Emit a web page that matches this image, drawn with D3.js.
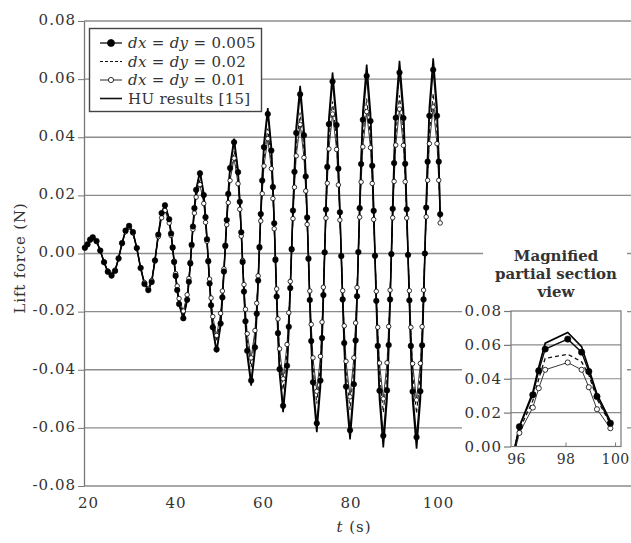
<!DOCTYPE html>
<html>
<head>
<meta charset="utf-8">
<script src="https://cdn.jsdelivr.net/npm/d3@7"></script>
<style>
  body { margin: 0; background: #fff; }
  svg { display: block; }
  text { font-family: "DejaVu Serif", serif; fill: #333; }
</style>
</head>
<body>
<svg id="chart" width="631" height="543"></svg>
<script>
// time samples (s)
const time = [19.3,19.9,20.5,21.1,
  21.96,22.82,23.68,24.54,25.4,
  26.2,27.0,27.8,28.6,29.4,
  30.28,31.16,32.04,32.92,33.8,
  34.56,35.32,36.08,36.84,37.6,
  38.57,39.0,39.36,39.7,40.04,40.4,40.83,41.8,
  42.67,43.07,43.4,43.7,44.0,44.33,44.73,45.6,
  46.47,46.87,47.2,47.5,47.8,48.14,48.53,49.4,
  50.32,50.73,51.08,51.4,51.72,52.07,52.48,53.4,
  54.3,54.7,55.04,55.35,55.66,56.0,56.4,57.3,
  58.17,58.57,58.9,59.2,59.5,59.83,60.23,61.1,
  61.91,62.27,62.57,62.85,63.13,63.43,63.8,64.6,
  65.5,65.9,66.24,66.55,66.86,67.2,67.6,68.5,
  69.37,69.77,70.1,70.4,70.7,71.03,71.43,72.3,
  73.13,73.5,73.81,74.1,74.39,74.7,75.07,75.9,
  76.82,77.23,77.58,77.9,78.22,78.57,78.98,79.9,
  80.77,81.17,81.5,81.8,82.1,82.43,82.83,83.7,
  84.57,84.97,85.3,85.6,85.9,86.23,86.63,87.5,
  88.35,88.73,89.05,89.35,89.65,89.97,90.35,91.2,
  92.1,92.5,92.84,93.15,93.46,93.8,94.2,95.1,
  95.97,96.37,96.7,97.0,97.3,97.63,98.03,98.9,
  99.77,100.17,100.5];

const huResults = [0.0020,0.0032,0.0048,0.0056,
  0.0043,0.0010,-0.0030,-0.0063,-0.0076,
  -0.0060,-0.0017,0.0036,0.0079,0.0095,
  0.0074,0.0019,-0.0050,-0.0105,-0.0126,
  -0.0098,-0.0024,0.0066,0.0140,0.0168,
  0.0119,0.0070,0.0021,-0.0029,-0.0078,-0.0127,-0.0176,-0.0225,
  -0.0161,-0.0098,-0.0034,0.0030,0.0094,0.0158,0.0221,0.0285,
  0.0207,0.0129,0.0051,-0.0028,-0.0106,-0.0184,-0.0262,-0.0340,
  -0.0248,-0.0156,-0.0064,0.0028,0.0119,0.0211,0.0303,0.0395,
  0.0289,0.0183,0.0076,-0.0030,-0.0136,-0.0243,-0.0349,-0.0455,
  -0.0336,-0.0216,-0.0097,0.0023,0.0142,0.0261,0.0381,0.0500,
  0.0369,0.0239,0.0108,-0.0023,-0.0154,-0.0285,-0.0415,-0.0546,
  -0.0406,-0.0265,-0.0125,0.0016,0.0156,0.0296,0.0437,0.0577,
  0.0428,0.0279,0.0130,-0.0019,-0.0168,-0.0317,-0.0466,-0.0615,
  -0.0460,-0.0306,-0.0151,0.0004,0.0159,0.0314,0.0468,0.0623,
  0.0465,0.0307,0.0149,-0.0009,-0.0166,-0.0324,-0.0482,-0.0640,
  -0.0479,-0.0318,-0.0156,0.0005,0.0166,0.0328,0.0489,0.0650,
  0.0485,0.0321,0.0156,-0.0009,-0.0173,-0.0338,-0.0502,-0.0667,
  -0.0501,-0.0335,-0.0168,-0.0002,0.0164,0.0331,0.0497,0.0663,
  0.0496,0.0329,0.0162,-0.0005,-0.0171,-0.0338,-0.0505,-0.0672,
  -0.0504,-0.0336,-0.0168,0.0000,0.0168,0.0336,0.0504,0.0672,
  0.0504,0.0336,0.0130];

const grid005 = [0.0020,0.0032,0.0048,0.0056,
  0.0043,0.0010,-0.0030,-0.0063,-0.0076,
  -0.0060,-0.0017,0.0036,0.0079,0.0095,
  0.0074,0.0019,-0.0050,-0.0105,-0.0126,
  -0.0098,-0.0024,0.0065,0.0139,0.0166,
  0.0118,0.0069,0.0021,-0.0029,-0.0077,-0.0126,-0.0174,-0.0223,
  -0.0159,-0.0097,-0.0034,0.0030,0.0093,0.0156,0.0219,0.0276,
  0.0201,0.0125,0.0049,-0.0027,-0.0103,-0.0178,-0.0254,-0.0330,
  -0.0241,-0.0151,-0.0062,0.0027,0.0115,0.0205,0.0294,0.0383,
  0.0280,0.0178,0.0073,-0.0029,-0.0131,-0.0233,-0.0335,-0.0437,
  -0.0323,-0.0207,-0.0093,0.0022,0.0136,0.0251,0.0366,0.0480,
  0.0354,0.0229,0.0104,-0.0022,-0.0148,-0.0274,-0.0398,-0.0524,
  -0.0386,-0.0252,-0.0119,0.0015,0.0148,0.0281,0.0415,0.0548,
  0.0407,0.0265,0.0124,-0.0018,-0.0160,-0.0301,-0.0443,-0.0584,
  -0.0437,-0.0291,-0.0143,0.0004,0.0151,0.0298,0.0445,0.0592,
  0.0442,0.0292,0.0142,-0.0009,-0.0158,-0.0308,-0.0458,-0.0608,
  -0.0450,-0.0299,-0.0147,0.0005,0.0156,0.0308,0.0460,0.0611,
  0.0456,0.0302,0.0147,-0.0008,-0.0163,-0.0318,-0.0472,-0.0627,
  -0.0471,-0.0315,-0.0158,-0.0002,0.0154,0.0311,0.0467,0.0623,
  0.0466,0.0309,0.0152,-0.0005,-0.0161,-0.0318,-0.0475,-0.0632,
  -0.0474,-0.0316,-0.0158,0.0000,0.0158,0.0316,0.0474,0.0632,
  0.0474,0.0316,0.0135];

const grid002 = [0.0019,0.0031,0.0047,0.0054,
  0.0042,0.0010,-0.0029,-0.0061,-0.0074,
  -0.0058,-0.0016,0.0035,0.0077,0.0092,
  0.0072,0.0018,-0.0049,-0.0102,-0.0122,
  -0.0095,-0.0023,0.0061,0.0130,0.0156,
  0.0111,0.0065,0.0020,-0.0027,-0.0073,-0.0118,-0.0164,-0.0209,
  -0.0150,-0.0091,-0.0032,0.0028,0.0087,0.0147,0.0206,0.0254,
  0.0184,0.0115,0.0045,-0.0025,-0.0094,-0.0164,-0.0233,-0.0303,
  -0.0221,-0.0139,-0.0057,0.0025,0.0106,0.0188,0.0270,0.0352,
  0.0257,0.0163,0.0065,-0.0026,-0.0117,-0.0209,-0.0300,-0.0391,
  -0.0289,-0.0186,-0.0083,0.0020,0.0122,0.0224,0.0328,0.0430,
  0.0317,0.0206,0.0093,-0.0020,-0.0132,-0.0245,-0.0357,-0.0470,
  -0.0341,-0.0223,-0.0105,0.0013,0.0131,0.0249,0.0367,0.0485,
  0.0360,0.0234,0.0109,-0.0016,-0.0141,-0.0266,-0.0391,-0.0517,
  -0.0386,-0.0257,-0.0127,0.0003,0.0134,0.0264,0.0393,0.0523,
  0.0391,0.0258,0.0125,-0.0008,-0.0139,-0.0272,-0.0405,-0.0538,
  -0.0393,-0.0261,-0.0128,0.0004,0.0136,0.0269,0.0401,0.0533,
  0.0398,0.0263,0.0128,-0.0007,-0.0142,-0.0277,-0.0412,-0.0547,
  -0.0411,-0.0275,-0.0138,-0.0002,0.0134,0.0271,0.0408,0.0544,
  0.0407,0.0270,0.0133,-0.0004,-0.0140,-0.0277,-0.0414,-0.0551,
  -0.0413,-0.0276,-0.0138,0.0000,0.0138,0.0276,0.0413,0.0551,
  0.0413,0.0276,0.0120];

const grid001 = [0.0019,0.0030,0.0046,0.0053,
  0.0041,0.0010,-0.0029,-0.0060,-0.0072,
  -0.0057,-0.0016,0.0034,0.0075,0.0090,
  0.0070,0.0018,-0.0048,-0.0100,-0.0120,
  -0.0093,-0.0023,0.0058,0.0123,0.0148,
  0.0105,0.0062,0.0018,-0.0026,-0.0069,-0.0112,-0.0155,-0.0198,
  -0.0142,-0.0086,-0.0030,0.0026,0.0083,0.0139,0.0194,0.0237,
  0.0172,0.0107,0.0042,-0.0023,-0.0088,-0.0153,-0.0217,-0.0282,
  -0.0206,-0.0129,-0.0053,0.0023,0.0099,0.0175,0.0251,0.0328,
  0.0240,0.0152,0.0060,-0.0024,-0.0107,-0.0192,-0.0276,-0.0359,
  -0.0265,-0.0171,-0.0077,0.0018,0.0112,0.0206,0.0301,0.0395,
  0.0292,0.0189,0.0085,-0.0018,-0.0122,-0.0225,-0.0328,-0.0431,
  -0.0313,-0.0204,-0.0096,0.0012,0.0120,0.0228,0.0336,0.0444,
  0.0330,0.0215,0.0100,-0.0015,-0.0129,-0.0244,-0.0359,-0.0474,
  -0.0354,-0.0236,-0.0116,0.0003,0.0122,0.0242,0.0360,0.0480,
  0.0358,0.0236,0.0115,-0.0007,-0.0128,-0.0249,-0.0371,-0.0493,
  -0.0359,-0.0239,-0.0117,0.0004,0.0125,0.0246,0.0367,0.0488,
  0.0364,0.0241,0.0117,-0.0007,-0.0130,-0.0254,-0.0377,-0.0500,
  -0.0376,-0.0251,-0.0126,-0.0002,0.0123,0.0248,0.0373,0.0497,
  0.0372,0.0247,0.0122,-0.0004,-0.0128,-0.0254,-0.0379,-0.0504,
  -0.0378,-0.0252,-0.0126,0.0000,0.0126,0.0252,0.0378,0.0504,
  0.0378,0.0252,0.0105];

// magnified window
const insetTime = [95.9, 96.14, 96.68, 96.92, 97.18, 98.09, 98.65, 98.94, 99.27, 99.81];
const insetHu   = [-0.004, 0.012, 0.032, 0.047, 0.061, 0.0673, 0.059, 0.046, 0.031, 0.015];
const inset005  = [-0.004, 0.0117, 0.0305, 0.0447, 0.0575, 0.0634, 0.0557, 0.0443, 0.0295, 0.0137];
const inset002  = [-0.005, 0.010, 0.027, 0.040, 0.052, 0.0545, 0.050, 0.0423, 0.028, 0.0133];
const inset001  = [-0.006, 0.008, 0.023, 0.0344, 0.0453, 0.0496, 0.0453, 0.035, 0.022, 0.0108];

const xTicks = [20, 40, 60, 80, 100];
const yTicks = [-0.08, -0.06, -0.04, -0.02, 0, 0.02, 0.04, 0.06, 0.08];
const insetXTicks = [96, 98, 100];
const insetYTicks = [0, 0.02, 0.04, 0.06, 0.08];
const legendLabels = ["dx = dy = 0.005", "dx = dy = 0.02", "dx = dy = 0.01", "HU results [15]"];

const svg = d3.select("#chart");
const gridColor = "#8c8c8c";

// scales
const x = d3.scaleLinear().domain([19.1, 100]).range([84, 438]);
const y = d3.scaleLinear().domain([-0.08, 0.08]).range([486, 21]);

const fmt = d => d.toFixed(2);

// horizontal grid across the whole frame
svg.append("g").selectAll("line").data(yTicks).join("line")
  .attr("x1", 84).attr("x2", 631)
  .attr("y1", d => y(d)).attr("y2", d => y(d))
  .attr("stroke", gridColor).attr("stroke-width", 1.3);

// y axis
const yAxis = svg.append("g").attr("transform", "translate(84,0)")
  .call(d3.axisLeft(y).tickValues(yTicks).tickFormat(fmt).tickSize(6).tickSizeOuter(0).tickPadding(2));
yAxis.select(".domain").attr("stroke", "#777").attr("stroke-width", 1.3);
yAxis.selectAll(".tick line").attr("stroke", "#777");
yAxis.selectAll("text").attr("font-size", 15).attr("letter-spacing", 1).attr("dy", "0.22em")
  .style("font-family", "DejaVu Serif").attr("fill", "#333");

// x axis (labels only, bottom line comes from the grid)
const xAxis = svg.append("g").attr("transform", "translate(0,486)")
  .call(d3.axisBottom(x).tickValues(xTicks).tickSize(0).tickPadding(11));
xAxis.select(".domain").remove();
xAxis.selectAll("text").attr("font-size", 15).attr("letter-spacing", 1)
  .style("font-family", "DejaVu Serif").attr("fill", "#333");

// axis titles
svg.append("text").attr("transform", "translate(25,258) rotate(-90)")
  .attr("text-anchor", "middle").attr("font-size", 15).attr("letter-spacing", 0.8)
  .text("Lift force (N)");
const xt = svg.append("text").attr("x", 354).attr("y", 532).attr("text-anchor", "middle")
  .attr("font-size", 15).attr("letter-spacing", 1);
xt.append("tspan").attr("font-style", "italic").text("t");
xt.append("tspan").text(" (s)");

// series
const series = [
  { values: grid001, stroke: "#222", width: 0.9, dash: null, marker: "open" },
  { values: grid002, stroke: "#111", width: 1.1, dash: "4,3", marker: null },
  { values: grid005, stroke: "#111", width: 1.3, dash: null, marker: "filled" },
  { values: huResults, stroke: "#000", width: 1.6, dash: null, marker: null }
];

function drawSeries(g, xs, ys, times, list, r) {
  const line = d3.line().x(d => xs(d.t)).y(d => ys(d.v));
  list.forEach(s => {
    const rows = times.map((t, i) => ({ t: t, v: s.values[i] }));
    g.append("path").datum(rows)
      .attr("d", line).attr("fill", "none")
      .attr("stroke", s.stroke).attr("stroke-width", s.width)
      .attr("stroke-dasharray", s.dash);
  });
  list.filter(s => s.marker).forEach(s => {
    const rows = times.map((t, i) => ({ t: t, v: s.values[i] }));
    g.append("g").selectAll("circle").data(rows).join("circle")
      .attr("cx", d => xs(d.t)).attr("cy", d => ys(d.v))
      .attr("r", s.marker === "filled" ? r : r * 0.8)
      .attr("fill", s.marker === "filled" ? "#000" : "#fff")
      .attr("stroke", "#000").attr("stroke-width", s.marker === "filled" ? 0.5 : 0.8);
  });
}

drawSeries(svg.append("g"), x, y, time, series, 2.8);

// legend
const lg = svg.append("g");
lg.append("rect").attr("x", 89.5).attr("y", 28.5).attr("width", 172).attr("height", 83)
  .attr("fill", "#fff").attr("stroke", "#444").attr("stroke-width", 1.4);
const legendRows = [
  { dash: null, marker: "filled", width: 1.3 },
  { dash: "3,2", marker: null, width: 1.1 },
  { dash: null, marker: "open", width: 0.9 },
  { dash: null, marker: null, width: 1.6 }
];
legendLabels.forEach((lab, i) => {
  const cy = 43 + i * 18.5;
  const row = legendRows[i];
  lg.append("line").attr("x1", 100).attr("x2", 122).attr("y1", cy).attr("y2", cy)
    .attr("stroke", "#111").attr("stroke-width", row.width).attr("stroke-dasharray", row.dash);
  if (row.marker) {
    lg.append("circle").attr("cx", 111).attr("cy", cy)
      .attr("r", row.marker === "filled" ? 3.5 : 2.6)
      .attr("fill", row.marker === "filled" ? "#000" : "#fff")
      .attr("stroke", "#000").attr("stroke-width", 0.8);
  }
  const t = lg.append("text").attr("x", 128).attr("y", cy + 5)
    .attr("font-size", 15).attr("letter-spacing", 0.3);
  lab.split(/(dx|dy)/).filter(p => p.length).forEach(p => {
    t.append("tspan").attr("font-style", (p === "dx" || p === "dy") ? "italic" : null)
      .text(p);
  });
});

// inset: white cover, title, small plot
svg.append("rect").attr("x", 483).attr("y", 242).attr("width", 144).attr("height", 62).attr("fill", "#fff");
svg.append("rect").attr("x", 462).attr("y", 302).attr("width", 165).attr("height", 172).attr("fill", "#fff");

const titleLines = ["Magnified", "partial section", "view"];
svg.append("g").selectAll("text").data(titleLines).join("text")
  .attr("x", 556).attr("y", (d, i) => 261 + i * 18)
  .attr("text-anchor", "middle").attr("font-size", 15).attr("font-weight", "bold")
  .attr("fill", "#222").text(d => d);

const ix = d3.scaleLinear().domain([95.8, 100.24]).range([511, 621]);
const iy = d3.scaleLinear().domain([0, 0.08]).range([446.5, 311]);

const inset = svg.append("g");
inset.append("g").selectAll("line").data(insetYTicks.slice(1, 4)).join("line")
  .attr("x1", 511).attr("x2", 621)
  .attr("y1", d => iy(d)).attr("y2", d => iy(d))
  .attr("stroke", gridColor).attr("stroke-width", 1.2);

const iyAxis = inset.append("g").attr("transform", "translate(511,0)")
  .call(d3.axisLeft(iy).tickValues(insetYTicks).tickFormat(fmt).tickSize(7).tickSizeOuter(0).tickPadding(2));
iyAxis.select(".domain").remove();
iyAxis.selectAll(".tick line").attr("stroke", "#777").attr("stroke-width", 1.2);
iyAxis.selectAll("text").attr("font-size", 15).attr("letter-spacing", 1).attr("dy", "0.3em")
  .style("font-family", "DejaVu Serif").attr("fill", "#333");

const ixAxis = inset.append("g").attr("transform", "translate(0,446.5)")
  .call(d3.axisBottom(ix).tickValues(insetXTicks).tickFormat(d3.format("d"))
    .tickSize(-4).tickSizeOuter(0).tickPadding(8));
ixAxis.select(".domain").remove();
ixAxis.selectAll(".tick line").attr("stroke", "#777");
ixAxis.selectAll("text").attr("font-size", 14).attr("letter-spacing", 0.4)
  .style("font-family", "DejaVu Serif").attr("fill", "#333");

svg.append("clipPath").attr("id", "insetClip").append("rect")
  .attr("x", 511).attr("y", 311).attr("width", 110).attr("height", 135.5);

const insetSeries = [
  { values: inset001, stroke: "#222", width: 0.9, dash: null, marker: "open" },
  { values: inset002, stroke: "#111", width: 1.3, dash: "4,3", marker: null },
  { values: inset005, stroke: "#111", width: 1.4, dash: null, marker: "filled" },
  { values: insetHu, stroke: "#000", width: 1.6, dash: null, marker: null }
];
drawSeries(inset.append("g").attr("clip-path", "url(#insetClip)"), ix, iy, insetTime, insetSeries, 3.2);

inset.append("rect").attr("x", 511).attr("y", 311).attr("width", 110).attr("height", 135.5)
  .attr("fill", "none").attr("stroke", "#777").attr("stroke-width", 1.2);
</script>
</body>
</html>
